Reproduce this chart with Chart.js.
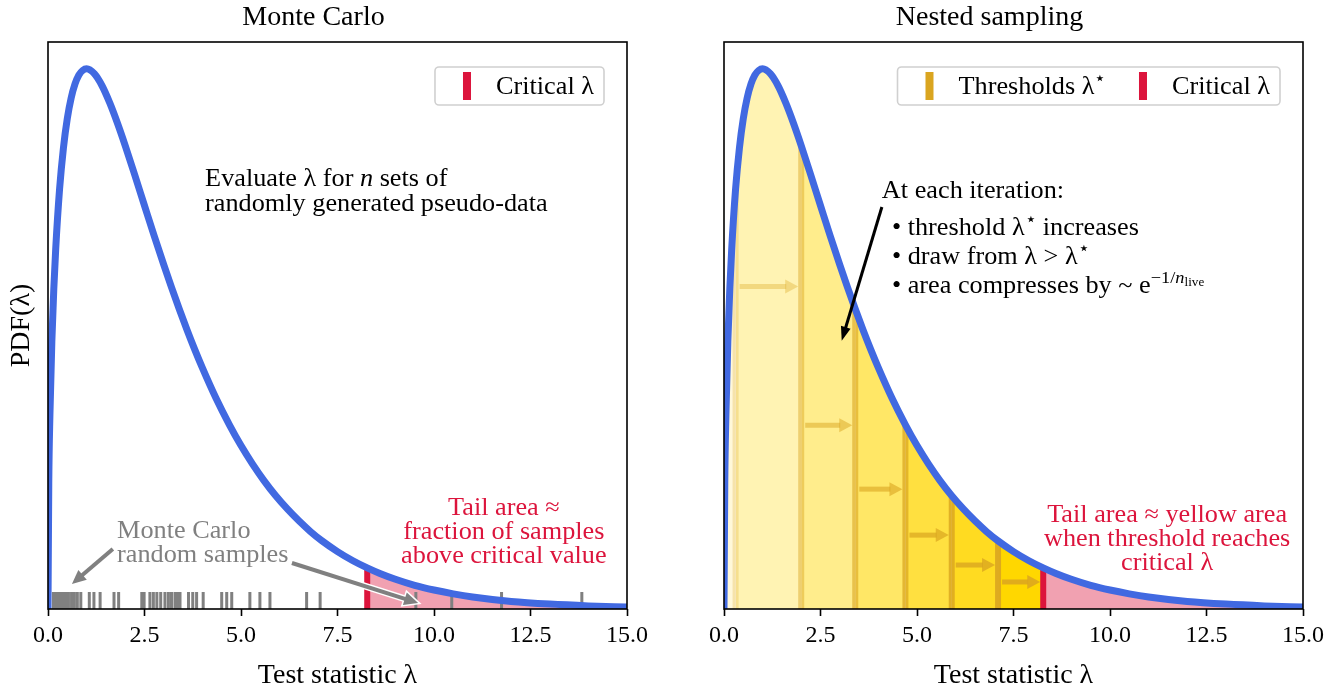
<!DOCTYPE html>
<html>
<head>
<meta charset="utf-8">
<script src="https://cdn.jsdelivr.net/npm/chart.js@4.4.1/dist/chart.umd.min.js"></script>
<style>
  html, body { margin: 0; padding: 0; background: #fff; }
  .panel { position: absolute; top: 0; width: 660px; height: 687px; }
  #left { left: 0; }
  #right { left: 676px; }
</style>
</head>
<body>
<div class="panel" id="left"><canvas id="mc"></canvas></div>
<div class="panel" id="right"><canvas id="ns"></canvas></div>
<script>
// values
const lambdaGrid = [0, 0.02, 0.05, 0.1, 0.15, 0.2, 0.3, 0.4, 0.5, 0.6, 0.7, 0.8, 0.9, 1.0,
  1.2, 1.4, 1.6, 1.8, 2.0, 2.25, 2.5, 2.75, 3.0, 3.2, 3.4, 3.6, 3.8, 4.0,
  4.35, 4.7, 5.0, 5.3, 5.6, 5.9, 6.2, 6.5, 6.8, 7.1, 7.5, 7.9, 8.27, 8.6, 9.0,
  9.5, 10, 10.5, 11, 12, 13, 14, 15];
const pdfValues = [0, 0.0559, 0.0870, 0.1200, 0.1433, 0.1614, 0.1881, 0.2066, 0.2197, 0.2289, 0.2352, 0.2392, 0.2413, 0.2420,
  0.2398, 0.2344, 0.2267, 0.2176, 0.2076, 0.1943, 0.1807, 0.1672, 0.1542, 0.1441, 0.1344, 0.1251, 0.1163, 0.1080,
  0.0945, 0.0825, 0.0732, 0.0649, 0.0574, 0.0507, 0.0448, 0.0395, 0.0347, 0.0305, 0.0257, 0.0216, 0.0184, 0.0159, 0.0133,
  0.0106, 0.0085, 0.0068, 0.0054, 0.0034, 0.0022, 0.0014, 0.00085];
const criticalLambda = 8.27;
const mcSamples = [0.14, 0.21, 0.27, 0.33, 0.40, 0.47, 0.53, 0.61, 0.68, 0.76, 0.85, 1.07, 1.19, 1.35, 1.71, 1.83,
  2.43, 2.49, 2.64, 2.73, 2.82, 2.92, 3.03, 3.12, 3.20, 3.29, 3.35, 3.42, 3.64, 3.75, 3.85, 4.02,
  4.50, 4.63, 4.76, 5.23, 5.49, 5.75, 6.70, 7.05, 9.53, 10.46, 11.75, 13.83];
const thresholds = [0.3, 2.0, 3.4, 4.7, 5.9, 7.1];
const arrowHeights = [0.1445, 0.0823, 0.0537, 0.0331, 0.0197, 0.0121];
const xTicks = [0, 2.5, 5, 7.5, 10, 12.5, 15];

const FONT = '"Liberation Serif", "DejaVu Serif", serif';
const BLUE = '#4169E1', CRIMSON = '#DC143C', PINK = '#F1A1B1', GREY = '#808080';
const bandColors = ['#FFF8DA', '#FFF3B3', '#FFED8C', '#FFE766', '#FFE040', '#FFDB21', '#FFD700'];
const lineColors = ['rgba(218,165,32,0.25)', 'rgba(218,165,32,0.45)', 'rgba(218,165,32,0.6)',
  'rgba(218,165,32,0.72)', 'rgba(218,165,32,0.82)', 'rgba(218,165,32,0.9)'];
const arrowColors = ['rgba(218,165,32,0.35)', 'rgba(218,165,32,0.5)', 'rgba(218,165,32,0.6)',
  'rgba(218,165,32,0.7)', 'rgba(218,165,32,0.78)', 'rgba(218,165,32,0.85)'];
const TXT = 25, STRETCH = 1.05;

Chart.defaults.font.family = FONT;
Chart.defaults.color = '#000';

const curvePts = lambdaGrid.map((x, i) => ({x: x, y: pdfValues[i]}));
const pdfAt = t => pdfValues[lambdaGrid.indexOf(t)];
const slice = (a, b) => curvePts.filter(p => p.x >= a && p.x <= b);

function area(pts, color) {
  return {data: pts, backgroundColor: color, borderColor: 'transparent', borderWidth: 0, fill: 'origin',
    pointRadius: 0, cubicInterpolationMode: 'monotone', clip: 0, order: 3};
}
function vline(x, top, color, width) {
  return {data: [{x: x, y: 0}, {x: x, y: top}], borderColor: color, borderWidth: width, fill: false,
    pointRadius: 0, tension: 0, clip: 0, order: 1, borderCapStyle: 'butt'};
}
const curve = {data: curvePts, borderColor: BLUE, borderWidth: 7, fill: false, pointRadius: 0,
  cubicInterpolationMode: 'monotone', clip: 0, order: 0};

// rich text: segments [text, kind]
const kinds = {n: [1, 0, ''], i: [1, 0, 'italic '], sup: [0.7, -0.42, ''], supi: [0.7, -0.42, 'italic '], ss: [0.5, -0.27, '']};
function richParts(ctx, segs, size) {
  return segs.map(s => {
    const k = kinds[s[1] || 'n'];
    const p = {t: s[0], dy: size * k[1], font: k[2] + (size * k[0]) + 'px ' + FONT};
    ctx.font = p.font; p.w = ctx.measureText(p.t).width * STRETCH;
    return p;
  });
}
function richWidth(ctx, segs, size) {
  return richParts(ctx, segs, size).reduce((a, p) => a + p.w, 0);
}
function richLine(ctx, x, y, segs, size, color, align) {
  const parts = richParts(ctx, segs, size);
  const w = parts.reduce((a, p) => a + p.w, 0);
  let cx = align === 'center' ? x - w / 2 : align === 'right' ? x - w : x;
  ctx.fillStyle = color; ctx.textBaseline = 'alphabetic'; ctx.textAlign = 'left';
  parts.forEach(p => {
    ctx.save();
    ctx.translate(cx, y + size * 0.32 + p.dy);
    ctx.scale(STRETCH, 1);
    ctx.font = p.font; ctx.fillText(p.t, 0, 0);
    ctx.restore();
    cx += p.w;
  });
  return w;
}
function block(ctx, x, y, lines, size, color, align, gap) {
  lines.forEach((l, i) => richLine(ctx, x, y + i * gap, l, size, color, align));
}
function arrow(ctx, x1, y1, x2, y2, color, lw, hl, hw, outline) {
  const a = Math.atan2(y2 - y1, x2 - x1), c = Math.cos(a), s = Math.sin(a);
  const bx = x2 - hl * c, by = y2 - hl * s;
  const head = () => {
    ctx.beginPath(); ctx.moveTo(x2, y2);
    ctx.lineTo(bx + hw / 2 * s, by - hw / 2 * c);
    ctx.lineTo(bx - hw / 2 * s, by + hw / 2 * c); ctx.closePath();
  };
  if (outline) {
    ctx.strokeStyle = outline; ctx.lineWidth = lw + 3;
    ctx.beginPath(); ctx.moveTo(x1, y1); ctx.lineTo(bx, by); ctx.stroke();
    ctx.lineWidth = 3; ctx.lineJoin = 'miter'; head(); ctx.stroke();
  }
  ctx.strokeStyle = color; ctx.lineWidth = lw; ctx.lineCap = 'butt';
  ctx.beginPath(); ctx.moveTo(x1, y1); ctx.lineTo(bx + 1 * c, by + 1 * s); ctx.stroke();
  ctx.fillStyle = color; head(); ctx.fill();
}
function legendBox(ctx, a, items) {
  const h = 38, top = a.top + 25, right = a.right - 23;
  const widths = items.map(it => richWidth(ctx, it.segs, TXT));
  const total = 8 + items.reduce((acc, it, i) => acc + 48 + 5 + widths[i], 0) + 13 * (items.length - 1) + 10;
  const left = right - total;
  ctx.fillStyle = 'rgba(255,255,255,0.85)'; ctx.strokeStyle = '#d0d0d0'; ctx.lineWidth = 1.6;
  ctx.beginPath(); ctx.roundRect(left, top, total, h, 4); ctx.fill(); ctx.stroke();
  let x = left + 8;
  items.forEach((it, i) => {
    ctx.fillStyle = it.color;
    ctx.fillRect(x + 24 - 4, top + 5, 8, h - 10);
    richLine(ctx, x + 53, top + h / 2, it.segs, TXT, '#000', 'left');
    x += 48 + 5 + widths[i] + 13;
  });
}
function spines(ctx, a) {
  ctx.strokeStyle = '#000'; ctx.lineWidth = 1.6;
  ctx.strokeRect(a.left, a.top, a.right - a.left, a.bottom - a.top);
}

function makeChart(id, title, yTitle, datasets, draw) {
  return new Chart(document.getElementById(id), {
    type: 'line',
    data: {datasets: datasets},
    options: {
      responsive: true,
      maintainAspectRatio: false,
      animation: false,
      events: [],
      layout: {padding: {left: 0, right: 33, top: 0, bottom: 0}},
      scales: {
        x: {
          type: 'linear', min: 0, max: 15, offset: false,
          afterBuildTicks: s => { s.ticks = xTicks.map(v => ({value: v})); },
          afterFit: s => { s.height = 78; },
          ticks: {callback: v => v.toFixed(1), font: {size: 24}, padding: 5, maxRotation: 0, color: '#000'},
          grid: {drawOnChartArea: false, drawTicks: true, tickLength: 7, tickColor: '#000', tickWidth: 1.6},
          border: {display: false},
          title: {display: true, text: 'Test statistic λ', font: {size: 28, lineHeight: 1}, padding: {top: 0, bottom: -3}, color: '#000'}
        },
        y: {
          min: 0, max: 0.254,
          afterFit: s => { s.width = 48; },
          ticks: {display: false},
          grid: {display: false},
          border: {display: false},
          title: {display: !!yTitle, text: yTitle, font: {size: 28, lineHeight: 1}, padding: {top: 8, bottom: 0}, color: '#000'}
        }
      },
      plugins: {
        legend: {display: false},
        tooltip: {enabled: false},
        title: {display: true, text: title, font: {size: 28, weight: 'normal', lineHeight: 1}, padding: {top: 4, bottom: 10}, color: '#000'}
      }
    },
    plugins: [{
      id: 'decor_' + id,
      afterDraw(chart) {
        const {ctx, chartArea: a, scales: {x, y}} = chart;
        ctx.save();
        draw(ctx, x, y, a);
        spines(ctx, a);
        ctx.restore();
      }
    }]
  });
}

// Monte Carlo panel
const rugHeight = 0.0076;
const rug = {data: mcSamples.flatMap(s => [{x: s, y: 0}, {x: s, y: rugHeight}, {x: s, y: null}]),
  borderColor: GREY, borderWidth: 3, pointRadius: 0, tension: 0, spanGaps: false, fill: false, clip: 0, order: 1};

makeChart('mc', 'Monte Carlo', 'PDF(λ)', [
  curve,
  area(slice(criticalLambda, 15), PINK),
  rug,
  vline(criticalLambda, pdfAt(criticalLambda), CRIMSON, 6)
], (ctx, x, y, a) => {
  block(ctx, x.getPixelForValue(4.07), y.getPixelForValue(0.1931),
    [[['Evaluate λ for '], ['n', 'i'], [' sets of']], [['randomly generated pseudo-data']]], TXT, '#000', 'left', 25);
  block(ctx, x.getPixelForValue(1.79), y.getPixelForValue(0.0354),
    [[['Monte Carlo']], [['random samples']]], TXT, GREY, 'left', 24);
  block(ctx, x.getPixelForValue(11.81), y.getPixelForValue(0.0457),
    [[['Tail area ≈']], [['fraction of samples']], [['above critical value']]], TXT, CRIMSON, 'center', 24);
  arrow(ctx, x.getPixelForValue(1.68), y.getPixelForValue(0.0269), x.getPixelForValue(0.62), y.getPixelForValue(0.0112), GREY, 4, 14, 13, '#fff');
  arrow(ctx, x.getPixelForValue(6.32), y.getPixelForValue(0.0206), x.getPixelForValue(9.59), y.getPixelForValue(0.0027), GREY, 4, 14, 13, '#fff');
  legendBox(ctx, a, [{color: CRIMSON, segs: [['Critical λ']]}]);
});

// Nested sampling panel
const edges = [0, ...thresholds, criticalLambda];
const bands = edges.slice(0, -1).map((e, i) => area(slice(e, edges[i + 1]), bandColors[i]));
const tLines = thresholds.map((t, i) => vline(t, pdfAt(t), lineColors[i], 6));

makeChart('ns', 'Nested sampling', '', [
  curve,
  ...bands,
  area(slice(criticalLambda, 15), PINK),
  ...tLines,
  vline(criticalLambda, pdfAt(criticalLambda), CRIMSON, 6)
], (ctx, x, y, a) => {
  thresholds.forEach((t, i) => {
    const py = y.getPixelForValue(arrowHeights[i]);
    arrow(ctx, x.getPixelForValue(t) + 4, py, x.getPixelForValue(edges[i + 2]) - 3, py, arrowColors[i], 5, 13, 14);
  });
  richLine(ctx, x.getPixelForValue(4.09), y.getPixelForValue(0.1877), [['At each iteration:']], TXT, '#000', 'left');
  block(ctx, x.getPixelForValue(4.35), y.getPixelForValue(0.1711), [
    [['• threshold λ'], ['⋆', 'sup'], [' increases']],
    [['• draw from λ > λ'], ['⋆', 'sup']],
    [['• area compresses by ~ e'], ['−1/', 'sup'], ['n', 'supi'], ['live', 'ss']]
  ], TXT, '#000', 'left', 29);
  block(ctx, x.getPixelForValue(11.48), y.getPixelForValue(0.0426),
    [[['Tail area ≈ yellow area']], [['when threshold reaches']], [['critical λ']]], TXT, CRIMSON, 'center', 24);
  arrow(ctx, x.getPixelForValue(4.09), y.getPixelForValue(0.1801), x.getPixelForValue(3.05), y.getPixelForValue(0.1202), '#000', 3, 14, 10);
  legendBox(ctx, a, [{color: '#DAA520', segs: [['Thresholds λ'], ['⋆', 'sup']]}, {color: CRIMSON, segs: [['Critical λ']]}]);
});
</script>
</body>
</html>
